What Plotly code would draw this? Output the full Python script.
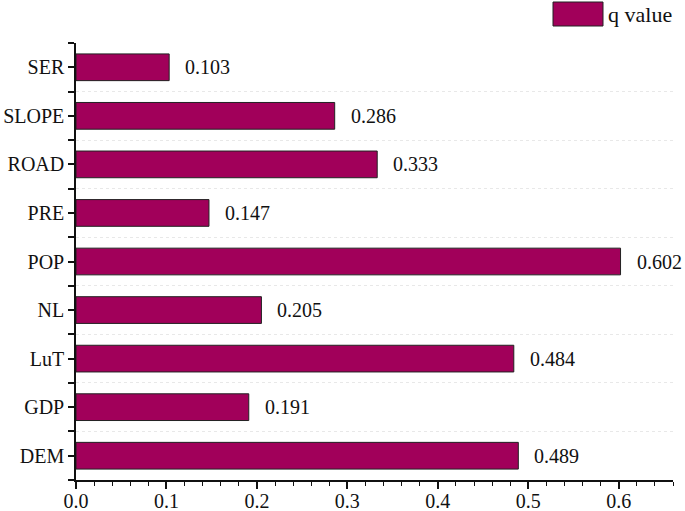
import plotly.graph_objects as go

categories = ["DEM", "GDP", "LuT", "NL", "POP", "PRE", "ROAD", "SLOPE", "SER"]
q_values = [0.489, 0.191, 0.484, 0.205, 0.602, 0.147, 0.333, 0.286, 0.103]
x_ticks = [0.0, 0.1, 0.2, 0.3, 0.4, 0.5, 0.6]
series_name = "q value"

BAR = "#A1005A"
FONT = "Liberation Serif, Times New Roman, serif"
ypos = list(range(len(categories)))

fig = go.Figure()
fig.add_trace(go.Bar(
    x=q_values, y=ypos, orientation="h", width=0.55,
    marker=dict(color=BAR, line=dict(color="#222222", width=1)),
    name=series_name, showlegend=False, cliponaxis=False, hoverinfo="skip",
))

for v, y in zip(q_values, ypos):
    fig.add_annotation(x=v, y=y, text=f"{v:.3f}", showarrow=False,
                       xanchor="left", yanchor="middle", xshift=14,
                       font=dict(family=FONT, size=20, color="#111111"))

L, R, T, B = 76, 12, 43, 31
W, H = 685, 511
pw, ph = W - L - R, H - T - B

# legend drawn in paper coords
x0 = (553 - L) / pw; x1 = (603 - L) / pw
y0 = 1 + (T - 26) / ph; y1 = 1 + (T - 2) / ph
fig.add_shape(type="rect", xref="paper", yref="paper", x0=x0, x1=x1, y0=y0, y1=y1,
              fillcolor=BAR, line=dict(color="#222222", width=1))
fig.add_annotation(xref="paper", yref="paper", x=(606 - L) / pw, y=(y0 + y1) / 2,
                   text=series_name, showarrow=False, xanchor="left", yanchor="middle",
                   font=dict(family=FONT, size=22, color="#111111"))

fig.update_layout(
    width=W, height=H,
    margin=dict(l=L, r=R, t=T, b=B, pad=0),
    plot_bgcolor="white", paper_bgcolor="white",
    font=dict(family=FONT, size=20, color="#111111"),
    xaxis=dict(range=[0, 0.66], tickvals=x_ticks, ticktext=[f"{t:.1f}" for t in x_ticks],
               automargin=False, ticklabelstandoff=-5,
               showgrid=False, zeroline=False, showline=True, linecolor="#111111", linewidth=1.5,
               ticks="outside", ticklen=7, tickwidth=1.5, tickcolor="#111111",
               minor=dict(dtick=0.02, tick0=0, ticks="outside", ticklen=4, tickwidth=1.2,
                          tickcolor="#111111", showgrid=False)),
    yaxis=dict(range=[-0.5, 8.5], tickvals=ypos, ticktext=categories,
               automargin=False,
               showgrid=False, zeroline=False, showline=True, linecolor="#111111", linewidth=1.5,
               ticks="outside", ticklen=6, tickwidth=1.5, tickcolor="#111111",
               minor=dict(tickvals=[i + 0.5 for i in range(-1, len(categories))],
                          ticks="outside", ticklen=6, tickwidth=1.5, tickcolor="#111111",
                          showgrid=True, gridcolor="#e8e8e8", griddash="dot", gridwidth=1)),
)

fig.write_html("out.html", config={"displayModeBar": False},
               post_script="document.body.style.margin='0';document.body.style.overflow='hidden';")
